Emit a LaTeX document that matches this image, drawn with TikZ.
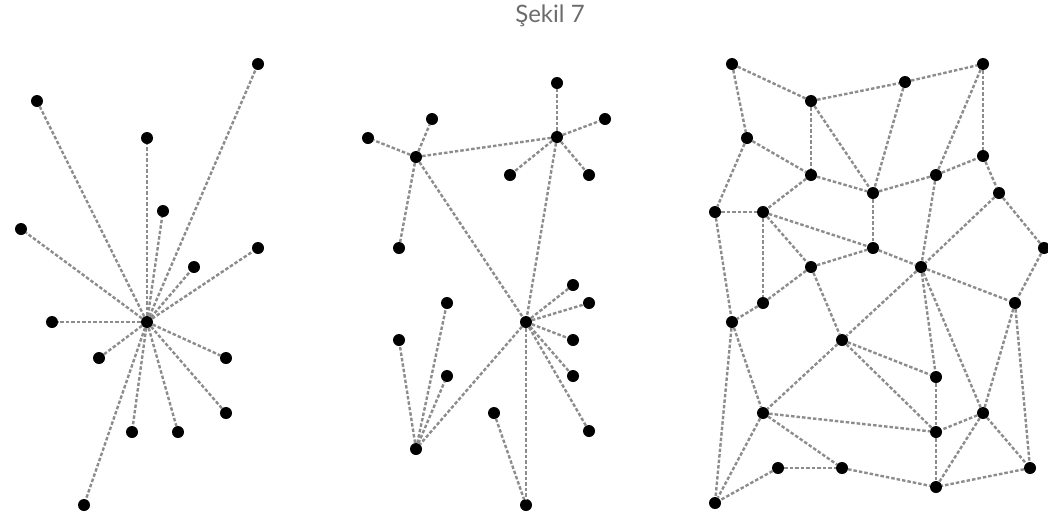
\documentclass[tikz,border=0pt]{standalone}
\usepackage{fontspec}
\setsansfont{Lato}
\usepackage{tikz}

\begin{document}
\begin{tikzpicture}[x=1pt,y=-1pt,
  dot/.style={circle,fill=black,inner sep=0pt,minimum size=12pt},
  link/.style={draw=gray!90,dash pattern=on 3.5pt off 2pt,line width=2.4pt}]
  \useasboundingbox (0,0) rectangle (1048,515);
  \node[font=\sffamily\fontsize{24}{28}\selectfont,text=gray!85!black] (title) at (550,16) {Şekil 7};
  % left: one hub
  \node[dot] (s0) at (147,322) {};
  \node[dot] (s1) at (37,101) {};
  \node[dot] (s2) at (258,64) {};
  \node[dot] (s3) at (147,138) {};
  \node[dot] (s4) at (163,211) {};
  \node[dot] (s5) at (21,229) {};
  \node[dot] (s6) at (258,248) {};
  \node[dot] (s7) at (194,267) {};
  \node[dot] (s8) at (52,322) {};
  \node[dot] (s9) at (99,358) {};
  \node[dot] (s10) at (226,358) {};
  \node[dot] (s11) at (226,413) {};
  \node[dot] (s12) at (132,432) {};
  \node[dot] (s13) at (178,432) {};
  \node[dot] (s14) at (84,505) {};
  \draw[link] (s0) -- (s1);
  \draw[link] (s0) -- (s2);
  \draw[link] (s0) -- (s3);
  \draw[link] (s0) -- (s4);
  \draw[link] (s0) -- (s5);
  \draw[link] (s0) -- (s6);
  \draw[link] (s0) -- (s7);
  \draw[link] (s0) -- (s8);
  \draw[link] (s0) -- (s9);
  \draw[link] (s0) -- (s10);
  \draw[link] (s0) -- (s11);
  \draw[link] (s0) -- (s12);
  \draw[link] (s0) -- (s13);
  \draw[link] (s0) -- (s14);
  % middle: several hubs
  \node[dot] (hA) at (416,157) {};
  \node[dot] (a1) at (368,138) {};
  \node[dot] (a2) at (432,119) {};
  \node[dot] (a3) at (399,248) {};
  \node[dot] (hB) at (557,137) {};
  \node[dot] (b1) at (557,83) {};
  \node[dot] (b2) at (605,119) {};
  \node[dot] (b3) at (510,175) {};
  \node[dot] (b4) at (589,175) {};
  \node[dot] (hC) at (526,322) {};
  \node[dot] (c1) at (573,285) {};
  \node[dot] (c2) at (589,303) {};
  \node[dot] (c3) at (573,340) {};
  \node[dot] (c4) at (573,376) {};
  \node[dot] (c5) at (589,431) {};
  \node[dot] (c6) at (526,505) {};
  \node[dot] (hD) at (416,449) {};
  \node[dot] (d1) at (399,340) {};
  \node[dot] (d2) at (447,303) {};
  \node[dot] (d3) at (447,376) {};
  \node[dot] (e1) at (494,413) {};
  \draw[link] (hA) -- (a1);
  \draw[link] (hA) -- (a2);
  \draw[link] (hA) -- (a3);
  \draw[link] (hA) -- (hB);
  \draw[link] (hA) -- (hC);
  \draw[link] (hB) -- (b1);
  \draw[link] (hB) -- (b2);
  \draw[link] (hB) -- (b3);
  \draw[link] (hB) -- (b4);
  \draw[link] (hB) -- (hC);
  \draw[link] (hC) -- (c1);
  \draw[link] (hC) -- (c2);
  \draw[link] (hC) -- (c3);
  \draw[link] (hC) -- (c4);
  \draw[link] (hC) -- (c5);
  \draw[link] (hC) -- (c6);
  \draw[link] (hC) -- (hD);
  \draw[link] (hD) -- (d1);
  \draw[link] (hD) -- (d2);
  \draw[link] (hD) -- (d3);
  \draw[link] (e1) -- (c6);
  % right: mesh
  \node[dot] (n1) at (732,64) {};
  \node[dot] (n2) at (811,101) {};
  \node[dot] (n3) at (905,82) {};
  \node[dot] (n4) at (983,64) {};
  \node[dot] (n5) at (747,138) {};
  \node[dot] (n6) at (811,175) {};
  \node[dot] (n7) at (873,193) {};
  \node[dot] (n8) at (936,175) {};
  \node[dot] (n9) at (983,156) {};
  \node[dot] (n10) at (999,193) {};
  \node[dot] (n11) at (715,212) {};
  \node[dot] (n12) at (763,212) {};
  \node[dot] (n13) at (873,248) {};
  \node[dot] (n14) at (811,267) {};
  \node[dot] (n15) at (921,267) {};
  \node[dot] (n16) at (1044,248) {};
  \node[dot] (n17) at (763,303) {};
  \node[dot] (n18) at (1015,303) {};
  \node[dot] (n19) at (732,322) {};
  \node[dot] (n20) at (842,340) {};
  \node[dot] (n21) at (936,377) {};
  \node[dot] (n22) at (763,413) {};
  \node[dot] (n23) at (983,413) {};
  \node[dot] (n24) at (936,432) {};
  \node[dot] (n25) at (778,468) {};
  \node[dot] (n26) at (842,468) {};
  \node[dot] (n27) at (1030,468) {};
  \node[dot] (n28) at (936,487) {};
  \node[dot] (n29) at (715,503) {};
  \draw[link] (n1) -- (n2);
  \draw[link] (n2) -- (n3);
  \draw[link] (n3) -- (n4);
  \draw[link] (n1) -- (n5);
  \draw[link] (n2) -- (n6);
  \draw[link] (n2) -- (n7);
  \draw[link] (n3) -- (n7);
  \draw[link] (n4) -- (n8);
  \draw[link] (n4) -- (n9);
  \draw[link] (n5) -- (n6);
  \draw[link] (n5) -- (n11);
  \draw[link] (n6) -- (n7);
  \draw[link] (n6) -- (n12);
  \draw[link] (n7) -- (n8);
  \draw[link] (n8) -- (n9);
  \draw[link] (n7) -- (n13);
  \draw[link] (n9) -- (n10);
  \draw[link] (n10) -- (n16);
  \draw[link] (n10) -- (n15);
  \draw[link] (n8) -- (n15);
  \draw[link] (n11) -- (n12);
  \draw[link] (n11) -- (n19);
  \draw[link] (n12) -- (n13);
  \draw[link] (n12) -- (n14);
  \draw[link] (n12) -- (n17);
  \draw[link] (n13) -- (n15);
  \draw[link] (n14) -- (n13);
  \draw[link] (n14) -- (n17);
  \draw[link] (n14) -- (n20);
  \draw[link] (n15) -- (n18);
  \draw[link] (n15) -- (n20);
  \draw[link] (n15) -- (n21);
  \draw[link] (n15) -- (n23);
  \draw[link] (n16) -- (n18);
  \draw[link] (n17) -- (n19);
  \draw[link] (n18) -- (n23);
  \draw[link] (n18) -- (n27);
  \draw[link] (n19) -- (n22);
  \draw[link] (n19) -- (n29);
  \draw[link] (n20) -- (n21);
  \draw[link] (n20) -- (n22);
  \draw[link] (n20) -- (n24);
  \draw[link] (n21) -- (n24);
  \draw[link] (n22) -- (n24);
  \draw[link] (n22) -- (n26);
  \draw[link] (n22) -- (n29);
  \draw[link] (n23) -- (n24);
  \draw[link] (n23) -- (n27);
  \draw[link] (n23) -- (n28);
  \draw[link] (n24) -- (n28);
  \draw[link] (n25) -- (n26);
  \draw[link] (n25) -- (n29);
  \draw[link] (n26) -- (n28);
  \draw[link] (n27) -- (n28);
\end{tikzpicture}
\end{document}
